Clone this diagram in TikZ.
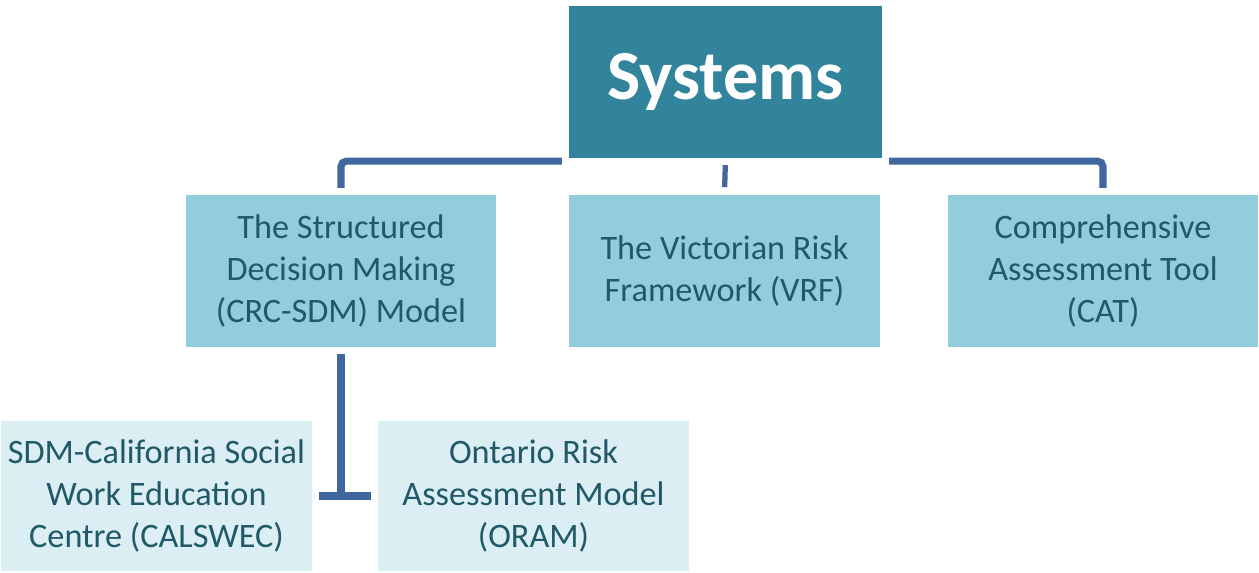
\documentclass[tikz,border=0pt]{standalone}
\usepackage{fontspec}
\setmainfont{Carlito}
\usetikzlibrary{backgrounds}
\definecolor{sysfill}{RGB}{49,132,155}
\definecolor{midfill}{RGB}{146,205,220}
\definecolor{lowfill}{RGB}{218,238,243}
\definecolor{txtcol}{RGB}{33,89,104}
\definecolor{linkcol}{RGB}{64,104,158}
\begin{document}
\begin{tikzpicture}[x=0.02cm, y=-0.02cm,
    topbox/.style={fill=sysfill, preaction={draw=white, line width=8pt},
        minimum width=6.26cm, minimum height=3.04cm, inner sep=0pt,
        text=white, font=\bfseries\fontsize{40}{48}\selectfont},
    midbox/.style={fill=midfill, draw=white, line width=1pt,
        minimum width=6.24cm, minimum height=3.08cm, inner sep=0pt,
        text=txtcol, align=center, font=\fontsize{19.5}{24}\selectfont},
    lowbox/.style={midbox, fill=lowfill, minimum height=3.04cm},
    link/.style={draw=linkcol, line width=4pt, rounded corners=3pt}]
    % Frame
    \useasboundingbox (0,0) rectangle (1259,572);

    % Top box
    \node[topbox] (sys) at (725.5,82) {Systems};

    % Second row
    \node[midbox] (sdm) at (341,271) {The Structured\\Decision Making\\(CRC-SDM) Model};
    \node[midbox] (vrf) at (724.5,271) {The Victorian Risk\\Framework (VRF)};
    \node[midbox] (cat) at (1103,271) {Comprehensive\\Assessment Tool\\(CAT)};

    % Third row
    \node[lowbox] (cal) at (156.5,496) {SDM-California Social\\Work Education\\Centre (CALSWEC)};
    \node[lowbox] (oram) at (533.5,496) {Ontario Risk\\Assessment Model\\(ORAM)};

    % Links
    \begin{pgfonlayer}{background}
    \draw[link, shorten <=3pt, shorten >=3pt] (sdm.north) -- ++(0,-32) -| (cat.north);
    \draw[link, line width=3pt, shorten >=3.4pt] (sys.south) -- (vrf.north);
    \draw[link, shorten <=3pt] (sdm.south) -- (sdm.south |- cal.east);
    \draw[link, shorten <=3.5pt, shorten >=3.5pt] (cal.east) -- (oram.west);
    \end{pgfonlayer}
\end{tikzpicture}
\end{document}
